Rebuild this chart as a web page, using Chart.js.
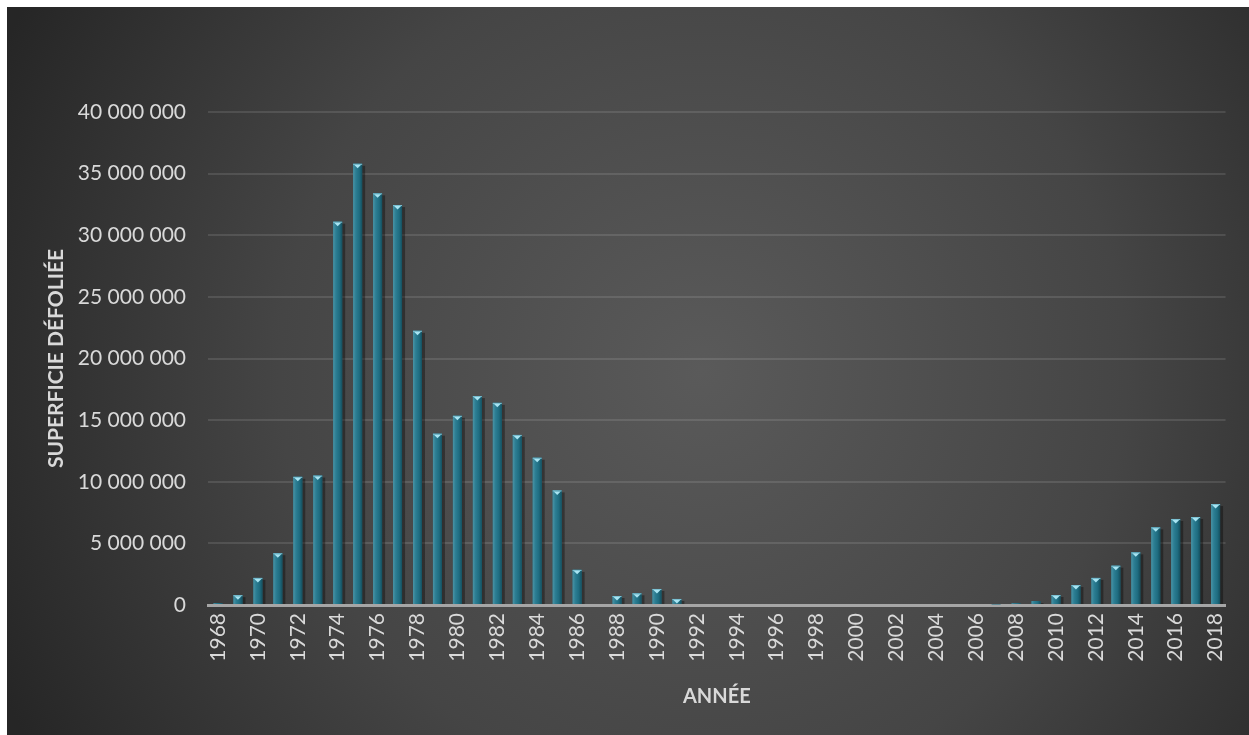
<!DOCTYPE html>
<html lang="fr">
<head>
<meta charset="UTF-8">
<title>Superficie défoliée par année</title>
<script src="https://cdn.jsdelivr.net/npm/chart.js"></script>
<style>
  html, body { margin: 0; padding: 0; background: #ffffff; }
  #wrap { position: absolute; left: 7px; top: 7px; width: 1242px; height: 728px; }
</style>
</head>
<body>
<div id="wrap"><canvas id="defol"></canvas></div>
<script>
// années 1968 à 2018
const annees = [];
for (let a = 1968; a <= 2018; a++) annees.push(String(a));

// superficie défoliée (ha) par année
const superficie = [
  150000, 800000, 2200000, 4200000, 10400000, 10500000, 31100000, 35800000,
  33400000, 32450000, 22250000, 13900000, 15350000, 16950000, 16400000, 13800000,
  11950000, 9300000, 2850000, 0, 730000, 950000, 1300000, 490000,
  0, 0, 0, 0, 0, 0, 0, 0, 0, 0, 0, 0, 0, 0, 0,
  50000, 140000, 320000, 810000, 1620000, 2200000, 3190000, 4270000,
  6300000, 6980000, 7140000, 8190000
];

const yMax = 40000000;
const yPas = 5000000;

function espaces(v) {
  return String(v).replace(/\B(?=(\d{3})+(?!\d))/g, ' ');
}

// fond sombre avec halo clair au centre
const fond = {
  id: 'fond',
  beforeDraw(chart) {
    const { ctx, width, height } = chart;
    const g = ctx.createRadialGradient(width * 0.56, height * 0.5, 0, width * 0.56, height * 0.5, width * 0.62);
    g.addColorStop(0, '#5a5a5a');
    g.addColorStop(0.55, '#454545');
    g.addColorStop(1, '#262626');
    ctx.save();
    ctx.fillStyle = g;
    ctx.fillRect(0, 0, width, height);
    ctx.restore();
  }
};

// relief des barres : ombre, dégradé et biseau en haut
const relief = {
  id: 'relief',
  beforeDatasetsDraw(chart) {
    const { ctx } = chart;
    ctx.save();
    ctx.fillStyle = 'rgba(0,0,0,0.35)';
    chart.getDatasetMeta(0).data.forEach(b => {
      const h = b.base - b.y;
      if (h < 1) return;
      ctx.fillRect(b.x - b.width / 2 + 2, b.y + 2, b.width + 1, h - 2);
    });
    ctx.restore();
  },
  afterDatasetsDraw(chart) {
    const { ctx } = chart;
    ctx.save();
    chart.getDatasetMeta(0).data.forEach(b => {
      const h = b.base - b.y;
      if (h < 0.5) return;
      const l = b.x - b.width / 2, r = b.x + b.width / 2;
      const g = ctx.createLinearGradient(l, 0, r, 0);
      g.addColorStop(0, '#4b93a5');
      g.addColorStop(0.3, '#2c7e93');
      g.addColorStop(0.7, '#1f6c80');
      g.addColorStop(1, '#15505f');
      ctx.fillStyle = g;
      ctx.fillRect(l, b.y, b.width, h);
      if (h < 4) return;
      ctx.fillStyle = '#7fc4d6';
      ctx.fillRect(l, b.y, b.width, 1);
      ctx.fillStyle = '#a8e4f2';
      ctx.beginPath();
      ctx.moveTo(b.x - 3.5, b.y + 1);
      ctx.lineTo(b.x + 3.5, b.y + 1);
      ctx.lineTo(b.x, b.y + 4.5);
      ctx.closePath();
      ctx.fill();
    });
    ctx.restore();
  }
};

new Chart(document.getElementById('defol'), {
  type: 'bar',
  data: {
    labels: annees,
    datasets: [{
      label: 'Superficie défoliée',
      data: superficie,
      backgroundColor: '#226f84',
      inflateAmount: 0,
      barThickness: 9
    }]
  },
  options: {
    responsive: true,
    maintainAspectRatio: false,
    animation: false,
    layout: { padding: { top: 105, right: 21, left: 0, bottom: 0 } },
    plugins: {
      legend: { display: false },
      tooltip: { enabled: false }
    },
    scales: {
      x: {
        afterFit(s) { s.height = 130; },
        grid: { display: false, drawTicks: false },
        border: { color: '#a6a6a6', width: 3 },
        ticks: {
          autoSkip: false,
          minRotation: 90,
          maxRotation: 90,
          padding: 8,
          color: '#d9d9d9',
          font: { family: 'Lato', size: 21 },
          callback(v, i) { return i % 2 === 0 ? annees[i] : ''; }
        },
        title: {
          display: true,
          text: 'ANNÉE',
          color: '#d9d9d9',
          font: { family: 'Lato', size: 20, weight: 'bold' },
          padding: { top: 0, bottom: 26 }
        }
      },
      y: {
        min: 0,
        max: yMax,
        afterFit(s) { s.width = 201; },
        grid: { color: 'rgba(255,255,255,0.11)', lineWidth: 2, drawTicks: false },
        border: { display: false },
        ticks: {
          stepSize: yPas,
          padding: 22,
          color: '#d9d9d9',
          font: { family: 'Lato', size: 21 },
          callback(v) { return espaces(v); }
        },
        title: {
          display: true,
          text: 'SUPERFICIE DÉFOLIÉE',
          color: '#d9d9d9',
          font: { family: 'Lato', size: 21, weight: 'bold' },
          padding: { top: 37, bottom: 0 }
        }
      }
    }
  },
  plugins: [fond, relief]
});
</script>
</body>
</html>
